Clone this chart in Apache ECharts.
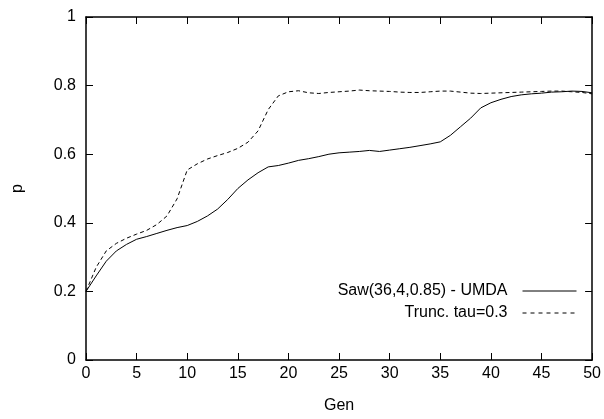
<!DOCTYPE html>
<html>
<head>
<meta charset="utf-8">
<script src="https://cdn.jsdelivr.net/npm/echarts@6/dist/echarts.min.js"></script>
<style>
  html, body { margin: 0; padding: 0; background: #fff; }
  #main { width: 604px; height: 419px; }
</style>
</head>
<body>
<div id="main"></div>
<script>
// generations 0..50
var gens = [];
for (var i = 0; i <= 50; i++) gens.push(i);

var umdaName = 'Saw(36,4,0.85) - UMDA';
var truncName = 'Trunc. tau=0.3';

var umdaValues = [
  0.200, 0.245, 0.288, 0.318, 0.337, 0.352, 0.360, 0.369, 0.378, 0.386,
  0.392, 0.404, 0.420, 0.440, 0.468, 0.500, 0.525, 0.546, 0.563, 0.567,
  0.574, 0.582, 0.587, 0.593, 0.600, 0.604, 0.606, 0.608, 0.611, 0.608,
  0.612, 0.616, 0.620, 0.625, 0.630, 0.636, 0.655, 0.680, 0.705, 0.735,
  0.750, 0.760, 0.768, 0.773, 0.776, 0.778, 0.781, 0.782, 0.784, 0.783,
  0.779
];

var truncValues = [
  0.200, 0.270, 0.318, 0.340, 0.355, 0.367, 0.378, 0.395, 0.420, 0.470,
  0.554, 0.572, 0.586, 0.596, 0.605, 0.617, 0.635, 0.668, 0.730, 0.770,
  0.782, 0.785, 0.779, 0.777, 0.780, 0.782, 0.784, 0.787, 0.785, 0.784,
  0.783, 0.781, 0.780, 0.780, 0.782, 0.784, 0.784, 0.781, 0.778, 0.777,
  0.778, 0.779, 0.780, 0.781, 0.782, 0.783, 0.784, 0.784, 0.782, 0.780,
  0.776
];

function pairs(vals) {
  return gens.map(function (g, k) { return [g, vals[k]]; });
}

var font = 'Liberation Sans, Arial, Helvetica, sans-serif';
var black = '#000';

var myChart = echarts.init(document.getElementById('main'));

function xAxisDef(pos, showLabel) {
  return {
    type: 'value', position: pos, min: 0, max: 50, interval: 5,
    name: showLabel ? 'Gen' : '', nameLocation: 'middle', nameGap: 38,
    nameTextStyle: { color: black, fontSize: 16, fontFamily: font },
    axisLine: { show: true, onZero: false, lineStyle: { color: black, width: 1.5 } },
    axisTick: { show: true, inside: true, length: 7, lineStyle: { color: black, width: 1 } },
    axisLabel: { show: showLabel, color: black, fontSize: 16, fontFamily: font, margin: 6 },
    splitLine: { show: false }
  };
}

function yAxisDef(pos, showLabel) {
  return {
    type: 'value', position: pos, min: 0, max: 1, interval: 0.2,
    name: showLabel ? 'p' : '', nameLocation: 'middle', nameGap: 60,
    nameTextStyle: { color: black, fontSize: 16, fontFamily: font },
    axisLine: { show: true, onZero: false, lineStyle: { color: black, width: 1.5 } },
    axisTick: { show: true, inside: true, length: 7, lineStyle: { color: black, width: 1 } },
    axisLabel: { show: showLabel, color: black, fontSize: 16, fontFamily: font, margin: 10 },
    splitLine: { show: false }
  };
}

// one legend per row so the line samples line up on the right
// (itemStyle opacity 0 hides the circle that line legends draw)
function legendDef(name, top, dash) {
  return {
    data: [name], right: 27, top: top, align: 'right',
    itemWidth: 54, itemHeight: 14, padding: 0,
    itemStyle: { opacity: 0 },
    lineStyle: { width: 1, color: black, type: dash },
    textStyle: { color: black, fontSize: 16, fontFamily: font, padding: [0, 10, 0, 0] },
    selectedMode: false
  };
}

var option = {
  animation: false,
  backgroundColor: '#fff',
  grid: { left: 86, right: 11, top: 17, bottom: 59 },
  xAxis: [xAxisDef('bottom', true), xAxisDef('top', false)],
  yAxis: [yAxisDef('left', true), yAxisDef('right', false)],
  legend: [legendDef(umdaName, 283, 'solid'), legendDef(truncName, 305, [4, 4])],
  series: [
    {
      name: umdaName, type: 'line', symbol: 'none', smooth: false,
      lineStyle: { color: black, width: 1, type: 'solid' },
      itemStyle: { color: black },
      data: pairs(umdaValues)
    },
    {
      name: truncName, type: 'line', symbol: 'none', smooth: false,
      lineStyle: { color: black, width: 1, type: [4, 3] },
      itemStyle: { color: black },
      data: pairs(truncValues)
    }
  ]
};

myChart.setOption(option);
</script>
</body>
</html>
